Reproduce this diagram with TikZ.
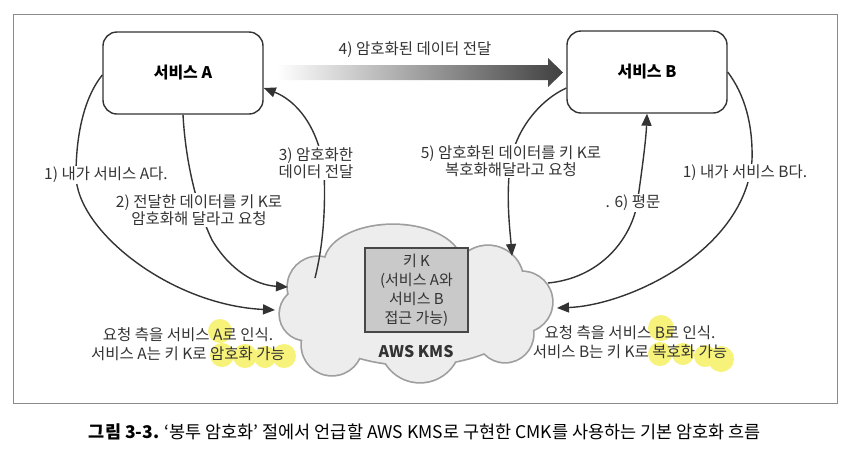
\documentclass[tikz,border=0pt]{standalone}
\usepackage{fontspec}
\setmainfont{Noto Sans CJK KR}
\usetikzlibrary{arrows.meta,calc}
\definecolor{ink}{HTML}{333333}
\definecolor{framegray}{HTML}{8A8A8A}
\definecolor{cloudfill}{HTML}{EDEDED}
\definecolor{cloudline}{HTML}{9E9E9E}
\definecolor{keyfill}{HTML}{C9C9C9}
\definecolor{hl}{HTML}{F7F27A}
\tikzset{
  svc/.style={draw=ink, line width=1.4pt, rounded corners=14pt, minimum width=160pt, minimum height=82pt, font=\fontsize{16}{18}\selectfont\bfseries},
  lbl/.style={fill=white, inner sep=1.5pt, align=center, text=ink, font=\fontsize{15.5}{17.5}\selectfont},
  note/.style={inner sep=0pt, align=center, text=ink, font=\fontsize{15.5}{18.5}\selectfont},
  conn/.style={draw=ink, line width=1.4pt},
  arr/.style={conn, -{Triangle[length=12pt,width=10pt]}},
}
\begin{document}
\begin{tikzpicture}[x=1pt,y=-1pt]
\useasboundingbox (0,0) rectangle (852,456);
\fill[white] (0,0) rectangle (852,456);
\draw[framegray, line width=1pt] (13,14) rectangle (837,403);

% cloud (outline by stroking parts, then filling over)
\def\cloudparts{
  (415,305) ellipse [x radius=115, y radius=60]
  (393,263) ellipse [x radius=68, y radius=38]
  (318,287) circle [radius=30]
  (306,314) circle [radius=26]
  (332,345) circle [radius=30]
  (420,342) circle [radius=40]
  (505,334) circle [radius=28]
  (522,302) circle [radius=30]
  (488,281) circle [radius=35]
}
\draw[cloudline, line width=3.4pt] \cloudparts;
\fill[cloudfill] \cloudparts;

\node[draw=ink!90, fill=keyfill, line width=1.4pt, minimum width=103pt, minimum height=84pt, inner sep=0pt,
      align=center, font=\fontsize{15}{19}\selectfont, text=ink] (key) at (416.5,290)
  {키 K\\(서비스 A와\\서비스 B\\접근 가능)};
\node[font=\fontsize{16}{18}\selectfont\bfseries, text=ink] (kms) at (416,352) {AWS KMS};

\coordinate (c1) at (275,310);
\coordinate (c2) at (288,287);
\coordinate (c3) at (315,278);
\coordinate (c5) at (512,256);
\coordinate (c6) at (548,283);
\coordinate (c1b) at (557,308);

% services
\node[svc] (A) at (183,73) {서비스 A};
\node[svc] (B) at (647,72) {서비스 B};

% big shaded arrow
\shade[left color=white, middle color=black!55, right color=black!75]
  (277,65) -- (548,65) -- (548,58) -- (563,72.5) -- (548,87) -- (548,80) -- (277,80) -- cycle;

% connectors
\draw[arr] ([yshift=-2pt]A.west) .. controls (86,95) and (76,130) .. (76,175)
           .. controls (76,230) and (170,305) .. (c1);
\draw[arr] (A.south) .. controls (186,170) and (200,215) .. (212,240)
           .. controls (230,270) and (255,285) .. (c2);
\draw[arr] (c3) .. controls (322,250) and (326,215) .. (324,170)
           .. controls (318,125) and (295,100) .. ([yshift=-15pt]A.east);
\draw[arr] ([yshift=-16pt]B.west) .. controls (540,100) and (515,130) .. (510,165)
           .. controls (506,200) and (510,230) .. (c5);
\draw[arr] (c6) .. controls (600,278) and (630,240) .. (637,205)
           .. controls (642,170) and (646,140) .. (B.south);
\draw[arr] (B.east) .. controls (745,95) and (753,125) .. (752,160)
           .. controls (745,250) and (630,305) .. (c1b);

% labels
\node[lbl] (l1) at (106,175) {1) 내가 서비스 A다.};
\node[lbl] (l2) at (199,210) {2) 전달한 데이터를 키 K로\\암호화해 달라고 요청};
\node[lbl] (l3) at (316,163) {3) 암호화한\\데이터 전달};
\node[lbl] (l4) at (415,50) {4) 암호화된 데이터 전달};
\node[lbl] (l5) at (511,161) {5) 암호화된 데이터를 키 K로\\복호화해달라고 요청};
\node[lbl] (l6) at (633,203) {. 6) 평문};
\node[lbl] (l1b) at (745,173) {1) 내가 서비스 B다.};

% highlights
\fill[hl] (220,331) circle [radius=12] (222,355) circle [radius=12] (245,356) circle [radius=12]
  (265,357) circle [radius=11] (284,356) circle [radius=12];
\fill[hl] (661,328) circle [radius=13] (660,354) circle [radius=12] (683,354) circle [radius=11]
  (705,356) circle [radius=11] (721,359) circle [radius=13];

\node[note] (na) at (188,344) {요청 측을 서비스 A로 인식.\\서비스 A는 키 K로 암호화 가능};
\node[note] (nb) at (630,342) {요청 측을 서비스 B로 인식.\\서비스 B는 키 K로 복호화 가능};

\node[text=black, font=\fontsize{17.5}{19}\selectfont] (cap) at (425,432)
  {\textbf{그림 3-3.} ‘봉투 암호화’ 절에서 언급할 AWS KMS로 구현한 CMK를 사용하는 기본 암호화 흐름};
\end{tikzpicture}
\end{document}
